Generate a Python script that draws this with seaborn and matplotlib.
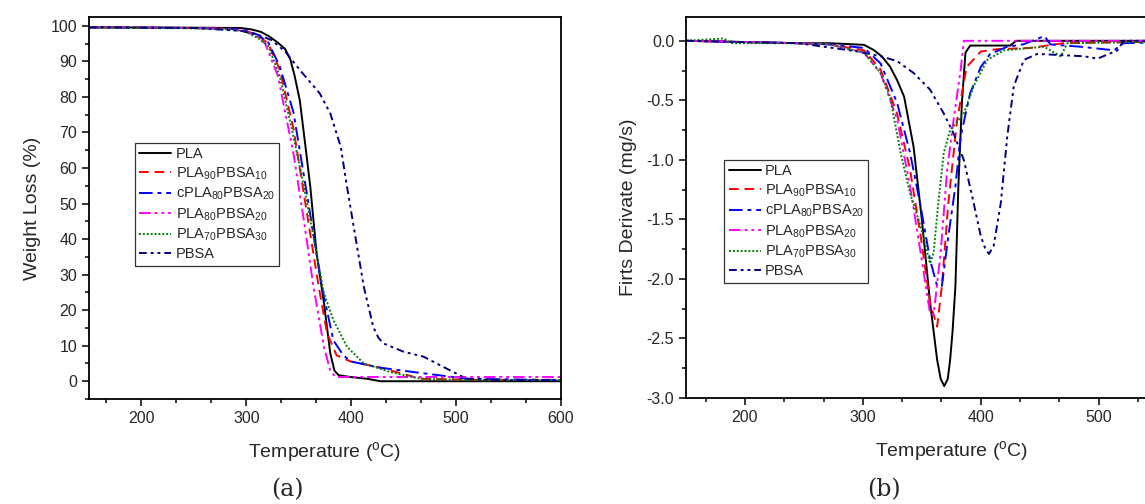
import numpy as np
import matplotlib
matplotlib.use("Agg")
import matplotlib.pyplot as plt
from matplotlib.ticker import MultipleLocator, FuncFormatter
import seaborn as sns

# %% data
labels = ["PLA", "PLA$_{\\mathregular{90}}$PBSA$_{\\mathregular{10}}$",
          "cPLA$_{\\mathregular{80}}$PBSA$_{\\mathregular{20}}$",
          "PLA$_{\\mathregular{80}}$PBSA$_{\\mathregular{20}}$",
          "PLA$_{\\mathregular{70}}$PBSA$_{\\mathregular{30}}$", "PBSA"]
colors = ["black", "red", "blue", "magenta", "green", "navy"]
styles = ["-", (0, (5, 3)), (0, (7, 2.5, 2, 2.5)), (0, (6, 2, 1.5, 2, 1.5, 2)),
          (0, (1, 1)), (0, (4, 2, 1.5, 2, 1.5, 2))]

# TGA (a)
tga_T = [
    [150, 250, 295, 305, 314, 322, 330, 337, 342, 346, 351, 356, 361, 367, 374, 380, 384, 388, 399, 415, 428, 500, 600],
    [150, 250, 285, 299, 311, 321, 332, 345, 359, 369, 377, 386, 399, 428, 466, 520, 600],
    [150, 250, 285, 299, 311, 321, 332, 345, 362, 372, 383, 392, 399, 428, 459, 510, 600],
    [150, 250, 285, 299, 311, 318, 330, 345, 355, 364, 374, 380, 385, 400, 500, 600],
    [150, 250, 285, 299, 311, 321, 332, 345, 355, 364, 374, 383, 396, 412, 437, 466, 520, 600],
    [150, 250, 295, 311, 324, 337, 351, 370, 380, 390, 396, 404, 412, 421, 426, 431, 450, 469, 488, 510, 540, 600],
]
tga_W = [
    [99.6, 99.5, 99.4, 99.0, 98.3, 97.0, 95.3, 93.5, 90.5, 86, 79, 67, 54.7, 36, 22, 7.9, 3.0, 1.7, 1.2, 0.7, 0, 0, 0],
    [99.6, 99.4, 99.2, 98.7, 97.3, 95.0, 87.6, 71, 45, 26.6, 13.5, 7.3, 5.6, 3.8, 0.7, 0.4, 0.4],
    [99.6, 99.4, 99.2, 98.8, 97.5, 95.3, 88.5, 75.6, 45, 26.6, 11.5, 7.5, 5.6, 3.8, 2.6, 0.7, 0.3],
    [99.6, 99.4, 99.1, 98.5, 96.8, 95.0, 86, 64, 45, 26.6, 9.7, 3.0, 1.2, 1.2, 1.2, 1.2],
    [99.5, 99.3, 99.0, 98.4, 96.6, 94.3, 85.7, 68.8, 54.7, 40.6, 24.7, 17.2, 9.7, 5, 2.6, 0.7, 0.3, 0.3],
    [99.6, 99.4, 98.6, 97.5, 96.0, 92.8, 87.6, 81, 75.4, 66, 54.7, 40.6, 26.6, 15.3, 12.2, 10.6, 8.3, 6.9, 4.0, 0.7, 0.3, 0.3],
]

# DTG (b)
dtg_T = [
    [150, 245, 272, 301, 309, 316, 323, 329, 335, 343, 350, 357, 363, 366, 369, 372, 374, 376, 378.5, 381, 384, 387, 391, 425, 430, 600],
    [150, 245, 272, 301, 315, 329, 340, 349, 357, 363, 367, 372.5, 380, 388, 400, 414, 442, 470, 600],
    [150, 245, 272, 301, 315, 329, 340, 349, 357, 363, 367, 372.5, 378.5, 383, 391, 400, 408, 422.5, 436, 454, 459, 485, 513, 521, 600],
    [150, 245, 272, 301, 315, 329, 340, 349, 357, 360, 366, 371.5, 377, 383, 385.6, 600],
    [150, 182, 189, 245, 272, 301, 315, 323, 332, 340, 349, 357, 360, 364, 368.6, 374, 385.6, 394, 405.5, 419.6, 442, 453.6, 467.8, 473.5, 600],
    [150, 245, 260, 296, 315, 329, 343, 357, 368.6, 377, 385.6, 392.8, 400, 404, 407, 411, 417, 422.5, 428, 436.6, 448, 468, 487.6, 499, 516, 521, 600],
]
dtg_D = [
    [0, -0.02, -0.02, -0.034, -0.076, -0.13, -0.216, -0.33, -0.47, -0.89, -1.5, -2.2, -2.68, -2.84, -2.9, -2.84, -2.68, -2.45, -2.06, -1.22, -0.52, -0.1, -0.04, -0.04, 0, 0],
    [0, -0.02, -0.03, -0.08, -0.24, -0.61, -1.08, -1.64, -2.2, -2.4, -2.06, -1.36, -0.66, -0.22, -0.09, -0.07, -0.06, -0.02, 0],
    [0, -0.02, -0.03, -0.06, -0.19, -0.52, -0.94, -1.39, -1.84, -2.06, -2.06, -1.64, -1.22, -0.8, -0.44, -0.22, -0.11, -0.05, -0.03, 0.04, -0.03, -0.05, -0.08, -0.02, 0],
    [0, -0.02, -0.03, -0.1, -0.27, -0.66, -1.22, -1.78, -2.29, -2.3, -1.78, -1.08, -0.66, -0.24, 0, 0],
    [0, 0.02, -0.02, -0.02, -0.03, -0.1, -0.27, -0.47, -0.94, -1.28, -1.56, -1.87, -1.78, -1.36, -0.94, -0.75, -0.61, -0.38, -0.16, -0.08, -0.06, -0.05, -0.13, -0.02, 0],
    [0, -0.02, -0.04, -0.09, -0.13, -0.17, -0.27, -0.41, -0.61, -0.78, -1.0, -1.31, -1.64, -1.75, -1.79, -1.72, -1.36, -0.8, -0.38, -0.16, -0.11, -0.12, -0.13, -0.15, -0.08, 0, 0],
]

# %% style
sns.set_style("ticks")
plt.rcParams["font.family"] = ["Liberation Sans", "DejaVu Sans"]
plt.rcParams["mathtext.default"] = "regular"

W, H = 1145, 504
fig = plt.figure(figsize=(W / 100, H / 100), dpi=100)
ax1 = fig.add_axes([89 / W, 1 - 399 / H, 472 / W, 382 / H])
# panel (b) is cut at the right edge in the reference, so its axes run past the figure
ax2 = fig.add_axes([686 / W, 1 - 398 / H, 530.6 / W, 381 / H])


def style_axes(ax):
    for s in ax.spines.values():
        s.set_visible(True)
        s.set_color("black")
        s.set_linewidth(1.3)
    ax.tick_params(which="both", direction="out", top=False, right=False,
                   labelsize=11.5, color="black", width=1.1)
    ax.tick_params(which="major", length=5)
    ax.tick_params(which="minor", length=3)
    ax.xaxis.set_major_locator(MultipleLocator(100))
    ax.xaxis.set_minor_locator(MultipleLocator(100 / 3))
    ax.set_xlabel("Temperature ($^{o}$C)", fontsize=14, labelpad=10)


for i in range(6):
    sns.lineplot(x=tga_T[i], y=tga_W[i], ax=ax1, color=colors[i], linestyle=styles[i],
                 linewidth=1.4, label=labels[i], sort=False, estimator=None)
    sns.lineplot(x=dtg_T[i], y=dtg_D[i], ax=ax2, color=colors[i], linestyle=styles[i],
                 linewidth=1.4, label=labels[i], sort=False, estimator=None)

style_axes(ax1)
ax1.set_xlim(150, 600)
ax1.set_ylim(-5, 102.5)
ax1.yaxis.set_major_locator(MultipleLocator(10))
ax1.yaxis.set_minor_locator(MultipleLocator(5))
ax1.set_ylabel("Weight Loss (%)", fontsize=14, labelpad=7)

style_axes(ax2)
ax2.set_xlim(150, 600)
ax2.set_ylim(-3.0, 0.2)
ax2.yaxis.set_major_locator(MultipleLocator(0.5))
ax2.yaxis.set_minor_locator(MultipleLocator(0.25))
ax2.yaxis.set_major_formatter(matplotlib.ticker.FormatStrFormatter("%.1f"))
ax2.xaxis.set_major_formatter(FuncFormatter(lambda v, p: "" if v > 540 else f"{v:.0f}"))
ax2.set_ylabel("Firts Derivate (mg/s)", fontsize=14, labelpad=7)

for ax, anchor in [(ax1, (0.097, 0.67)), (ax2, (0.072, 0.625))]:
    leg = ax.legend(loc="upper left", bbox_to_anchor=anchor, fontsize=10.5,
                    frameon=True, fancybox=False, handlelength=2.2,
                    labelspacing=0.28, borderpad=0.3, handletextpad=0.3,
                    borderaxespad=0)
    leg.get_frame().set_edgecolor("black")
    leg.get_frame().set_linewidth(0.9)

fig.text(287 / W, 1 - 490 / H, "(a)", fontsize=17, family="DejaVu Serif",
         ha="center", va="center")
fig.text(884 / W, 1 - 490 / H, "(b)", fontsize=17, family="DejaVu Serif",
         ha="center", va="center")

fig.savefig("out.png", dpi=100)
